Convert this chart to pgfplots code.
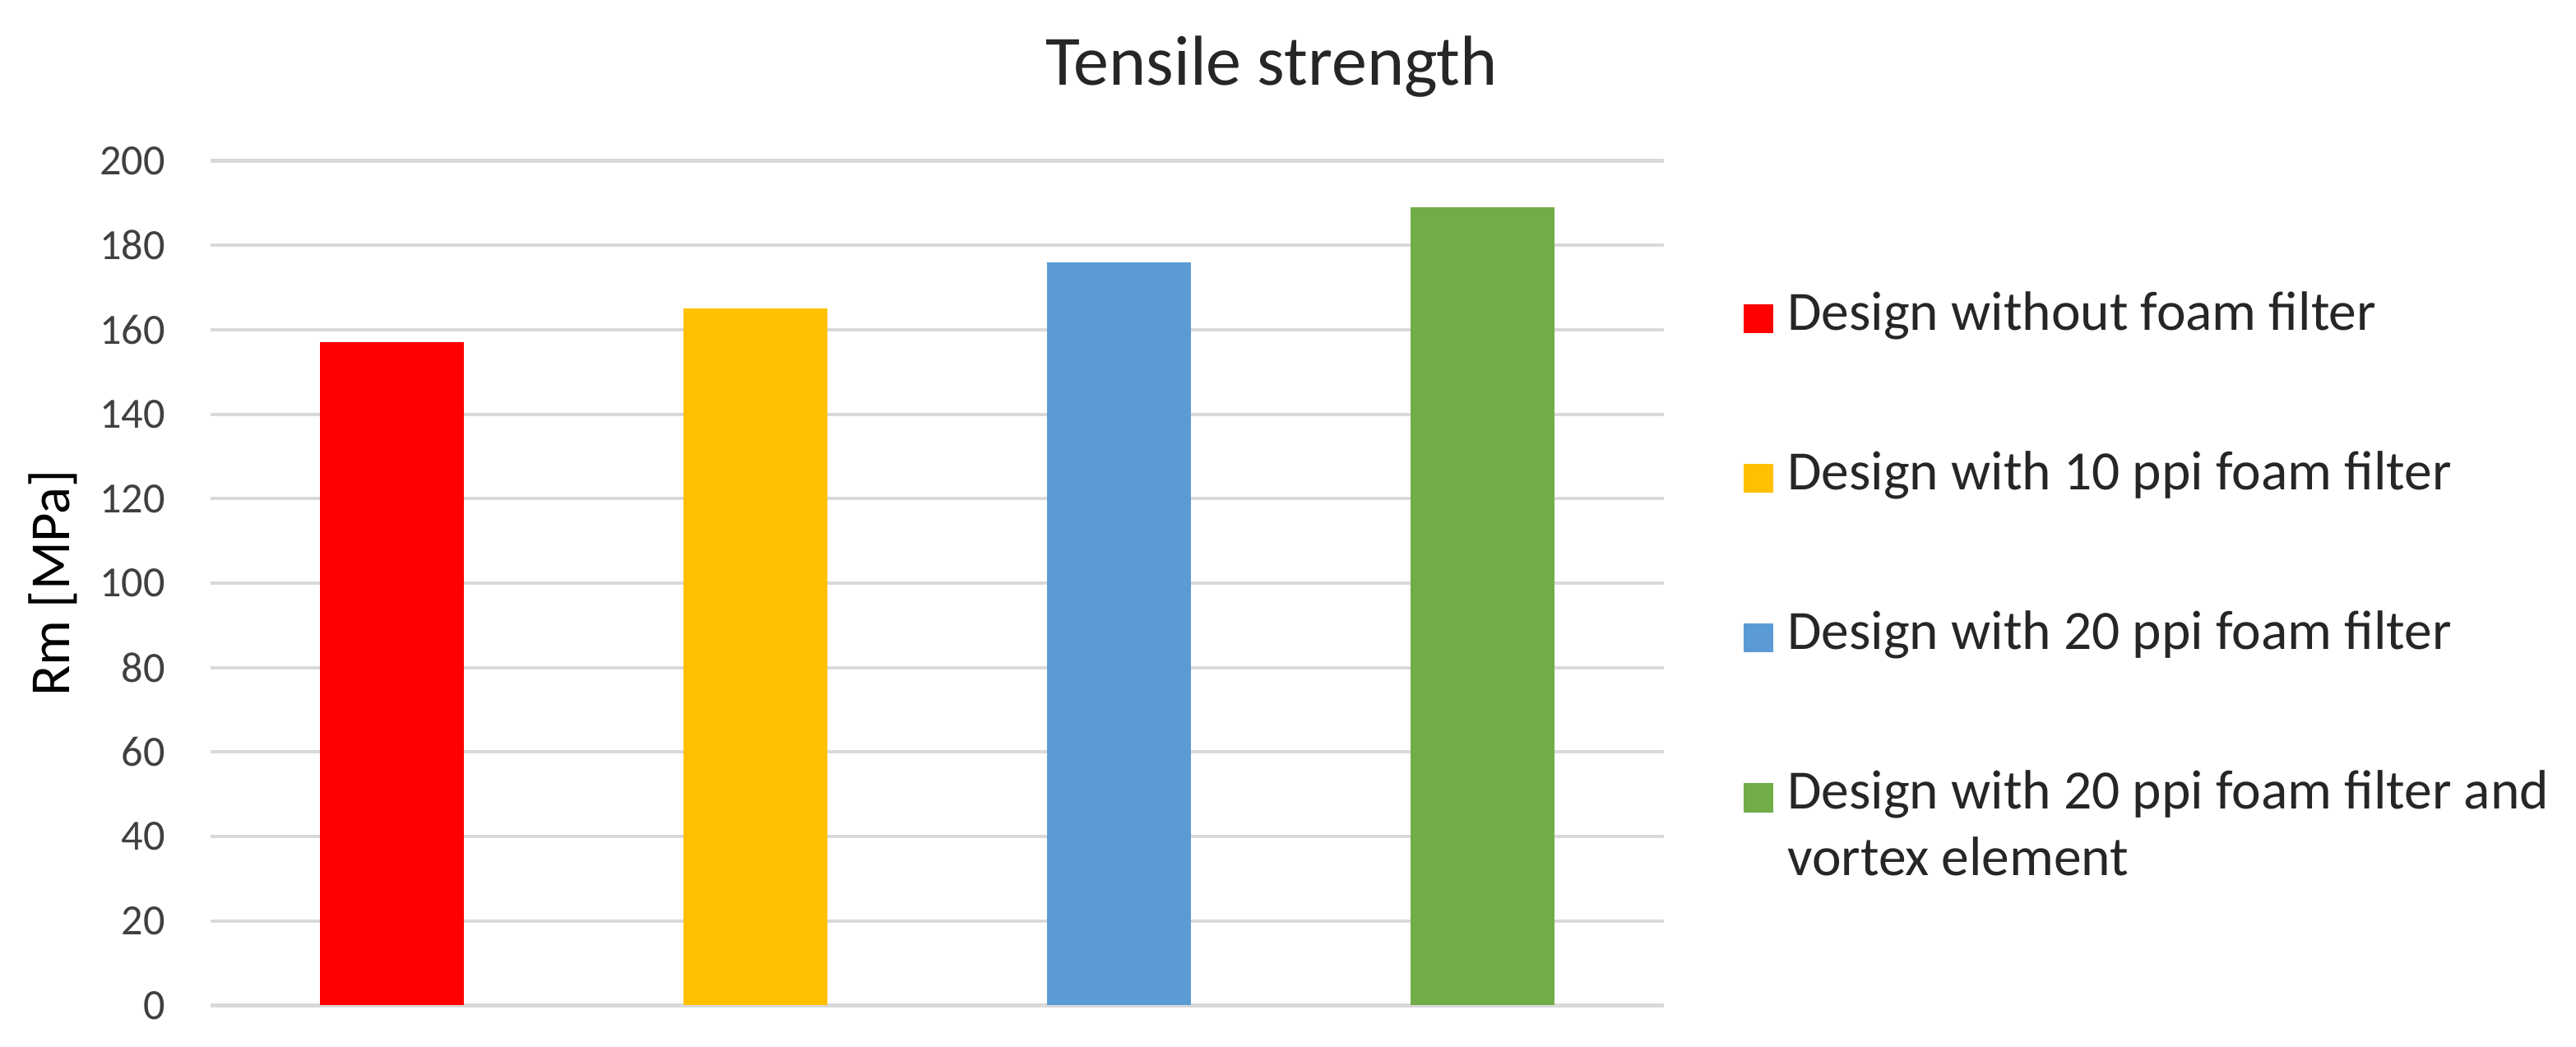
\documentclass[border=0pt]{standalone}
\usepackage{pgfplots}
\pgfplotsset{compat=1.18}
\usepackage{fontspec}
\setmainfont{Carlito}
\definecolor{barRed}{HTML}{FF0000}
\definecolor{barYellow}{HTML}{FFC000}
\definecolor{barBlue}{HTML}{5B9BD5}
\definecolor{barGreen}{HTML}{70AD47}
\definecolor{gridGray}{HTML}{D9D9D9}
\definecolor{tickGray}{HTML}{404040}
\definecolor{textDark}{HTML}{262626}

% square legend marker, roughly centred on the text's mid height
\pgfplotsset{sqlegend/.style={legend image code/.code={%
  \fill[##1] (0cm,-0.02cm) rectangle (0.18cm,0.16cm);}}}

\begin{document}
\begin{tikzpicture}
\useasboundingbox (-1.308,-0.255) rectangle (14.692,6.245);
\begin{axis}[
  scale only axis,
  width=9.027cm, height=5.246cm,
  xmin=-0.5, xmax=3.5,
  ymin=0, ymax=200,
  ytick={0,20,...,200},
  xtick=\empty,
  axis line style={draw=none},
  ymajorgrids=true,
  grid style={gridGray, line width=0.6pt},
  major tick length=0pt,
  /pgf/number format/assume math mode=true,
  yticklabel style={font=\fontsize{7.6}{9}\selectfont, text=tickGray, inner sep=0pt, xshift=-0.276cm},
  ylabel={Rm [MPa]},
  ylabel style={at={(axis description cs:-0.1086,0.5)}, anchor=center, font=\fontsize{10}{12}\selectfont, text=black},
  title={Tensile strength},
  title style={at={(axis description cs:0.730,1)}, anchor=base, yshift=0.26cm, font=\fontsize{12.5}{15}\selectfont, text=textDark},
  ybar,
  bar width=0.894cm,
  legend style={draw=none, fill=none,
    at={(axis description cs:1.0426,0.86)}, anchor=north west,
    row sep=0.70cm,
    font=\fontsize{9.8}{11.6}\selectfont, text=textDark,
    cells={anchor=base west},
    nodes={inner sep=0pt},
    /tikz/every odd column/.style={column sep=0.09cm}},
]
\addplot[fill=barRed, draw=none, bar shift=0pt, sqlegend]
  coordinates {(0,157)};
\addlegendentry{Design without foam filter}
\addplot[fill=barYellow, draw=none, bar shift=0pt, sqlegend]
  coordinates {(1,165)};
\addlegendentry{Design with 10 ppi foam filter}
\addplot[fill=barBlue, draw=none, bar shift=0pt, sqlegend]
  coordinates {(2,176)};
\addlegendentry{Design with 20 ppi foam filter}
\addplot[fill=barGreen, draw=none, bar shift=0pt, sqlegend]
  coordinates {(3,189)};
\addlegendentry{\vtop{\baselineskip=11.8pt\hbox{Design with 20 ppi foam filter and}\hbox{vortex element}}}
\end{axis}
\end{tikzpicture}
\end{document}
